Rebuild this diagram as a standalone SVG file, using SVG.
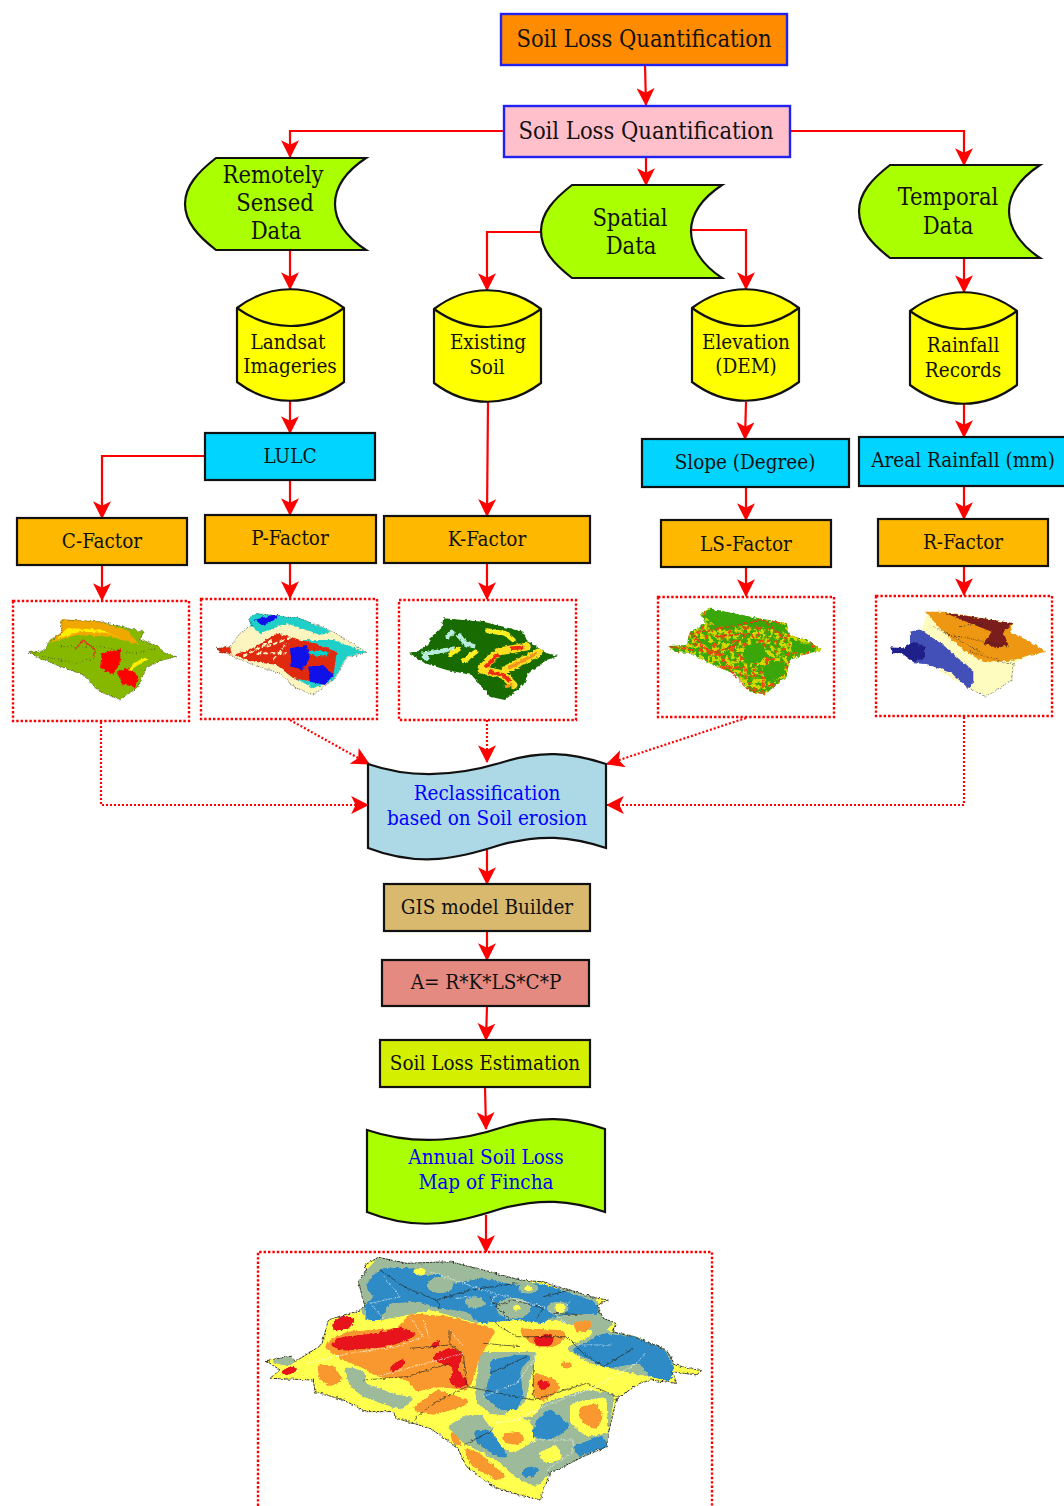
<svg xmlns="http://www.w3.org/2000/svg" width="1064" height="1506" viewBox="0 0 1064 1506">
<style>
text{font-family:"DejaVu Serif Condensed","DejaVu Serif","Liberation Serif",serif;text-anchor:middle;fill:#111}
.t1{font-size:23.5px}.t2{font-size:20.5px}
text.b{fill:#00f}
.n{stroke:#111;stroke-width:2.2;stroke-linejoin:miter}
.c{fill:none;stroke:#f00;stroke-width:2.2}
.d{fill:none;stroke:#f00;stroke-width:2.2;stroke-dasharray:2 2}
.box{fill:#fff;stroke:#f00;stroke-width:2.4;stroke-dasharray:2.4 2}
.cy{fill:#00d4ff}.fa{fill:#ffb800}.gr{fill:#aaff00}.ye{fill:#ffff00}
.bl{stroke:#2222ee;stroke-width:2.4}
.o{fill:none;stroke:#222;stroke-width:2;stroke-dasharray:3 3}
.w{fill:none;stroke:#fff;stroke-width:2;stroke-dasharray:6 3}
.k{fill:none;stroke:#222;stroke-width:2}
.bf{filter:url(#blob)}
.rf{filter:url(#rough)}
</style>
<defs>
<marker id="a" markerUnits="userSpaceOnUse" markerWidth="18" markerHeight="18" refX="15" refY="8" orient="auto" viewBox="0 0 16 16"><path d="M0,0 L16,8 L0,16 L4,8 Z" fill="#f00"/></marker>
<filter id="blob" x="-5%" y="-5%" width="110%" height="110%" color-interpolation-filters="sRGB"><feGaussianBlur stdDeviation="6"/><feComponentTransfer><feFuncA type="linear" slope="10" intercept="-4.5"/></feComponentTransfer></filter>
<filter id="rough" x="-5%" y="-5%" width="110%" height="110%" color-interpolation-filters="sRGB"><feTurbulence type="fractalNoise" baseFrequency=".09" numOctaves="2" seed="4"/><feDisplacementMap in="SourceGraphic" scale="11" xChannelSelector="R" yChannelSelector="G"/><feGaussianBlur stdDeviation="1.2"/></filter>
<filter id="mot" x="0" y="0" width="100%" height="100%" color-interpolation-filters="sRGB">
<feTurbulence type="fractalNoise" baseFrequency=".075" numOctaves="2" seed="3" result="n"/>
<feColorMatrix in="n" type="matrix" values="0 0 0 0 .82 0 0 0 0 .85 0 0 0 0 0 9 0 0 0 -4.2" result="y"/>
<feComposite in="y" in2="SourceAlpha" operator="in" result="yy"/>
<feColorMatrix in="n" type="matrix" values="0 0 0 0 .92 0 0 0 0 .3 0 0 0 0 .05 0 9 0 0 -5.2" result="r"/>
<feComposite in="r" in2="SourceAlpha" operator="in" result="rr"/>
<feMerge><feMergeNode in="SourceGraphic"/><feMergeNode in="yy"/><feMergeNode in="rr"/></feMerge></filter>
</defs>
<g id="connectors">
<path class="c" marker-end="url(#a)" d="M645,65 L646,105"/>
<path class="c" marker-end="url(#a)" d="M504,131 H290 V157"/>
<path class="c" marker-end="url(#a)" d="M646,157 V185"/>
<path class="c" marker-end="url(#a)" d="M790,131 H964 V165"/>
<path class="c" marker-end="url(#a)" d="M290,250 V289"/>
<path class="c" marker-end="url(#a)" d="M541,232 H487 V290"/>
<path class="c" marker-end="url(#a)" d="M691,230 H746 V289"/>
<path class="c" marker-end="url(#a)" d="M964,258 V292"/>
<path class="c" marker-end="url(#a)" d="M290,401 V433"/>
<path class="c" marker-end="url(#a)" d="M746,402 L745,439"/>
<path class="c" marker-end="url(#a)" d="M964,404 V437"/>
<path class="c" marker-end="url(#a)" d="M205,456 H102 V518"/>
<path class="c" marker-end="url(#a)" d="M290,480 V515"/>
<path class="c" marker-end="url(#a)" d="M488,402 L487,516"/>
<path class="c" marker-end="url(#a)" d="M746,487 V520"/>
<path class="c" marker-end="url(#a)" d="M964,486 V519"/>
<path class="c" marker-end="url(#a)" d="M102,565 V600"/>
<path class="c" marker-end="url(#a)" d="M290,563 V598"/>
<path class="c" marker-end="url(#a)" d="M487,563 V599"/>
<path class="c" marker-end="url(#a)" d="M746,567 V596"/>
<path class="c" marker-end="url(#a)" d="M964,566 V595"/>
<path class="d" marker-end="url(#a)" d="M101,722 V805 H368"/>
<path class="d" marker-end="url(#a)" d="M290,720 L369,764"/>
<path class="d" marker-end="url(#a)" d="M487,720 V762"/>
<path class="d" marker-end="url(#a)" d="M746,718 L607,764"/>
<path class="d" marker-end="url(#a)" d="M964,717 V805 H607"/>
<path class="c" marker-end="url(#a)" d="M487,850 V884"/>
<path class="c" marker-end="url(#a)" d="M487,931 V960"/>
<path class="c" marker-end="url(#a)" d="M487,1006 L486,1040"/>
<path class="c" marker-end="url(#a)" d="M485,1087 L486,1129"/>
<path class="c" marker-end="url(#a)" d="M486,1215 V1252"/>
</g>
<g id="n-top"><rect x="501" y="14" width="286" height="51" fill="#ff8c00" class="bl"/><text class="t1" x="644" y="47">Soil Loss Quantification</text></g>
<g id="n-second"><rect x="504" y="106" width="286" height="51" fill="#ffc0cb" class="bl"/><text class="t1" x="646" y="139">Soil Loss Quantification</text></g>
<g id="n-remote"><path class="n gr" d="M216,158 H366 C345,172 335,188 335,204 C335,220 345,236 366,250 H216 C198,236 185,222 185,204 C185,186 198,172 216,158 Z"/><text class="t1" x="273" y="183">Remotely</text><text class="t1" x="275" y="211">Sensed</text><text class="t1" x="276" y="239">Data</text></g>
<g id="n-spatial"><path class="n gr" d="M572,185 H722 C701,199 691,215 691,231 C691,247 701,264 722,278 H572 C554,264 541,250 541,231 C541,213 554,199 572,185 Z"/><text class="t1" x="630" y="226">Spatial</text><text class="t1" x="631" y="254">Data</text></g>
<g id="n-temporal"><path class="n gr" d="M890,165 H1040 C1019,179 1009,195 1009,211 C1009,227 1019,244 1040,258 H890 C872,244 859,230 859,211 C859,193 872,179 890,165 Z"/><text class="t1" x="948" y="205">Temporal</text><text class="t1" x="948" y="234">Data</text></g>
<g id="n-landsat"><path class="n ye" d="M237,308 C270,283 311,283 344,308 V382 C311,407 270,407 237,382 Z"/><path class="n" fill="none" d="M237,308 C270,332 311,332 344,308"/><text class="t2" x="288" y="349">Landsat</text><text class="t2" x="290" y="373">Imageries</text></g>
<g id="n-existing"><path class="n ye" d="M434,309 C467,284 508,284 541,309 V383 C508,408 467,408 434,383 Z"/><path class="n" fill="none" d="M434,309 C467,333 508,333 541,309"/><text class="t2" x="488" y="349">Existing</text><text class="t2" x="487" y="374">Soil</text></g>
<g id="n-elevation"><path class="n ye" d="M692,308 C725,283 766,283 799,308 V382 C766,407 725,407 692,382 Z"/><path class="n" fill="none" d="M692,308 C725,332 766,332 799,308"/><text class="t2" x="746" y="349">Elevation</text><text class="t2" x="746" y="373">(DEM)</text></g>
<g id="n-rainfall"><path class="n ye" d="M910,311 C943,286 984,286 1017,311 V385 C984,410 943,410 910,385 Z"/><path class="n" fill="none" d="M910,311 C943,335 984,335 1017,311"/><text class="t2" x="963" y="352">Rainfall</text><text class="t2" x="963" y="377">Records</text></g>
<g id="n-lulc"><rect class="n cy" x="205" y="433" width="170" height="47"/><text class="t2" x="290" y="463">LULC</text></g>
<g id="n-slope"><rect class="n cy" x="642" y="439" width="207" height="48"/><text class="t2" x="745" y="469">Slope (Degree)</text></g>
<g id="n-areal"><rect class="n cy" x="859" y="437" width="210" height="49"/><text class="t2" x="963" y="467">Areal Rainfall (mm)</text></g>
<g id="n-c"><rect class="n fa" x="17" y="518" width="170" height="47"/><text class="t2" x="102" y="548">C-Factor</text></g>
<g id="n-p"><rect class="n fa" x="205" y="515" width="171" height="48"/><text class="t2" x="290" y="545">P-Factor</text></g>
<g id="n-k"><rect class="n fa" x="384" y="516" width="206" height="47"/><text class="t2" x="487" y="546">K-Factor</text></g>
<g id="n-ls"><rect class="n fa" x="661" y="520" width="170" height="47"/><text class="t2" x="746" y="551">LS-Factor</text></g>
<g id="n-r"><rect class="n fa" x="878" y="519" width="170" height="47"/><text class="t2" x="963" y="549">R-Factor</text></g>

<g id="map-c"><rect class="box" x="13" y="601" width="176" height="120"/>
<g transform="translate(0,590) scale(.3333)"><g class="rf">
<path fill="#86b800" d="M85,187 L130,185 L150,150 L185,130 L185,90 L300,95 L430,125 L420,150 L470,165 L495,190 L530,200 L490,210 L440,230 L415,290 L360,330 L300,305 L250,255 L170,225 L120,205Z"/>
<path fill="#f0a800" d="M185,88 L300,95 L380,120 L418,165 L330,140 L230,135 L150,158 L185,125Z"/>
<path fill="#ffee00" d="M200,115 L300,118 L375,150 L320,128 L240,125 L170,148Z"/>
<path fill="#f00" d="M305,190 L360,178 L362,220 L340,252 L300,235Z M350,245 L385,232 L415,260 L405,292 L365,282Z"/>
<path d="M225,178 L250,150 L285,180 L280,200" fill="none" stroke="#e03a1a" stroke-width="4"/>
<path d="M385,240 L440,205 L400,222" fill="none" stroke="#ffee00" stroke-width="7"/>
<path class="o" d="M85,187 L130,185 L150,150 L185,130 L185,90 L300,95 L430,125 L420,150 L470,165 L495,190 L530,200 L490,210 L440,230 L415,290 L360,330 L300,305 L250,255 L170,225 L120,205Z"/>
<path fill="none" stroke="#333" stroke-width="2" stroke-dasharray="3 8" d="M130,200 L230,220 L300,200 M180,170 L300,170 L400,190 L470,175"/>
</g></g></g>

<g id="map-p"><rect class="box" x="201" y="599" width="176" height="120"/>
<g transform="translate(0,590) scale(.3333)"><g class="rf">
<path fill="#fdf5c0" d="M652,175 L690,170 L720,130 L760,105 L745,90 L765,70 L900,85 L1000,125 L1040,150 L1100,187 L1040,205 L1005,265 L940,315 L880,290 L840,250 L760,225 L700,200Z"/>
<path fill="#20d0c8" d="M745,90 L765,70 L900,85 L995,125 L960,135 L860,100 L780,130 L760,115Z M900,150 L1000,150 L1100,187 L1040,200 L1000,270 L940,295 L860,250 L850,190Z"/>
<path fill="#e02a10" d="M652,175 L690,172 L695,190 L660,190Z"/>
<path fill="#e02a10" d="M700,195 L760,175 L830,130 L940,160 L1010,185 L1000,260 L940,275 L880,265 L830,225 L760,215Z"/>
<path fill="none" stroke="#fdf5c0" stroke-width="6" stroke-dasharray="14 7" d="M730,200 L820,150 M770,190 L860,190 M800,170 L880,140 M820,210 L860,160"/>
<path fill="#00d4c8" d="M920,180 L990,185 L975,200 L935,195Z"/>
<path fill="#1010e8" d="M870,175 L920,165 L930,205 L905,240 L875,230Z M925,230 L970,225 L1000,255 L975,285 L930,275Z"/>
<path fill="#1010e8" d="M760,90 L830,72 L835,85 L790,105Z"/>
<path class="o" d="M652,175 L690,170 L720,130 L760,105 L745,90 L765,70 L900,85 L1000,125 L1040,150 L1100,187 L1040,205 L1005,265 L940,315 L880,290 L840,250 L760,225 L700,200Z"/>
</g></g></g>

<g id="map-k"><rect class="box" x="399" y="600" width="177" height="120"/>
<g transform="translate(390,590) scale(.3333)"><g class="rf">
<path fill="#176b00" d="M57,188 L85,183 L115,165 L120,145 L155,110 L160,85 L280,95 L400,125 L410,150 L470,190 L505,198 L470,210 L415,250 L400,285 L345,330 L300,320 L245,255 L170,240 L105,220Z"/>
<path fill="none" stroke="#b8ecdc" stroke-width="13" stroke-linejoin="round" d="M95,195 L195,175 M115,210 L100,195 M170,145 L190,122 M205,132 L225,160 L255,170"/>
<path fill="none" stroke="#ffee22" stroke-width="14" stroke-linecap="round" d="M180,195 L205,178 M222,212 L258,185 M290,122 L345,130 L370,150"/>
<path fill="none" stroke="#ffe020" stroke-width="24" stroke-linejoin="round" stroke-linecap="round" d="M275,235 L325,185 L410,170 M345,240 L445,188 M275,238 L340,255 L370,285"/>
<path fill="none" stroke="#ee2a10" stroke-width="11" stroke-linejoin="round" d="M285,232 L325,192 M295,245 L340,255 L360,275 M360,175 L400,172"/>
<path fill="none" stroke="#f2951f" stroke-width="9" d="M355,235 L440,190 M345,290 L370,285"/>
</g></g></g>

<g id="map-ls"><rect class="box" x="658" y="597" width="176" height="120"/>
<g transform="translate(650,590) scale(.3333)"><g class="rf">
<path fill="#3aa60a" style="filter:url(#mot)" d="M55,168 L110,165 L120,125 L165,100 L150,72 L175,55 L300,80 L410,100 L420,135 L470,150 L515,180 L460,195 L420,210 L410,260 L345,313 L300,305 L260,255 L190,225 L120,190 L75,185Z"/>
<path fill="#3aa60a" class="bf" d="M165,80 L175,55 L300,80 L405,105 L410,125 L300,105 L200,110Z M285,165 L340,160 L350,205 L290,225 L275,190Z M335,230 L395,210 L410,250 L350,280Z M430,150 L510,178 L460,190 L420,185Z"/>
<path fill="none" stroke="#ea3a10" stroke-width="4" stroke-dasharray="14 4" d="M120,130 L240,110 L340,90 L385,130 L400,145 M130,160 L210,190 L240,240 L290,295 L340,312 M130,135 L180,190 L250,170 L270,150 M60,170 L130,180 M200,140 L300,130"/>
</g></g></g>

<g id="map-r"><rect class="box" x="876" y="596" width="176" height="120"/>
<g transform="translate(650,590) scale(.3333)"><g class="rf">
<path fill="#fffcc0" d="M810,120 L830,85 L825,65 L880,65 L1090,100 L1080,135 L1140,155 L1190,185 L1140,195 L1095,220 L1085,270 L1010,320 L955,295 L830,220 L780,125Z"/>
<path fill="#ee9712" d="M825,65 L880,65 L1090,100 L1080,125 L1140,155 L1190,185 L1140,195 L1085,212 L1000,215 L940,180 L870,115Z"/>
<path fill="#7b1d1c" d="M880,67 L1090,100 L1060,125 L1075,165 L1040,175 L1000,160 L1025,125 L960,100Z"/>
<path fill="#4350b8" d="M780,125 L810,118 L880,165 L970,245 L970,275 L955,295 L905,250 L830,222 L790,220 L780,180Z"/>
<path fill="#20208a" d="M720,172 L760,175 L790,155 L825,170 L825,205 L790,215 L755,190 L730,190Z"/>
<path class="o" d="M850,110 L1000,190 M880,130 L1080,170 M930,110 L1000,100 M960,185 L1090,225 M1090,220 L1085,270 L1010,320 L955,295"/>
</g></g></g>

<g id="n-reclass"><path class="n" fill="#add8e6" d="M368,764 C420,782 470,772 500,763 C540,750 570,752 606,764 V848 C570,836 540,834 500,845 C460,858 420,868 368,848 Z"/><text class="t2 b" x="487" y="800">Reclassification</text><text class="t2 b" x="487" y="825">based on Soil erosion</text></g>
<g id="n-gis"><rect class="n" fill="#d9b96e" x="384" y="884" width="206" height="47"/><text class="t2" x="487" y="914">GIS model Builder</text></g>
<g id="n-eq"><rect class="n" fill="#e58a80" x="382" y="960" width="207" height="46"/><text class="t2" x="486" y="989">A= R*K*LS*C*P</text></g>
<g id="n-est"><rect class="n" fill="#d4f000" x="380" y="1040" width="210" height="47"/><text class="t2" x="485" y="1070">Soil Loss Estimation</text></g>
<g id="n-annual"><path class="n gr" d="M367,1130 C420,1148 470,1138 500,1128 C540,1115 570,1117 605,1129 V1212 C570,1200 540,1198 500,1209 C460,1222 420,1233 367,1212 Z"/><text class="t2 b" x="486" y="1164">Annual Soil Loss</text><text class="t2 b" x="486" y="1189">Map of Fincha</text></g>

<g id="map-main"><path class="box" d="M258,1506 V1252 H712 V1506"/>
<g transform="translate(250,1240) scale(.3333)"><g class="rf">
<path fill="#ffff4d" d="M48,362 L125,348 L135,365 L215,315 L235,240 L330,210 L345,200 L325,125 L350,90 L345,75 L385,52 L470,70 L600,65 L720,95 L810,120 L870,125 L960,150 L1040,175 L1075,180 L1040,195 L1060,235 L1100,250 L1085,275 L1150,290 L1250,330 L1275,375 L1355,392 L1340,405 L1265,395 L1280,430 L1200,420 L1170,430 L1100,475 L1075,580 L1070,620 L1000,650 L900,700 L870,780 L790,760 L730,740 L650,680 L620,620 L540,565 L440,535 L430,515 L350,515 L280,480 L195,455 L190,420 L60,415 L90,390Z"/>
<g class="bf" fill="#9dbb9a">
<path d="M325,125 L350,90 L385,52 L470,70 L600,65 L720,95 L810,120 L960,150 L1040,175 L1060,235 L1100,250 L1040,280 L920,240 L760,235 L680,250 L540,210 L400,240 L350,240 L330,210 L345,200Z"/>
<path d="M690,335 L860,335 L850,380 L825,490 L740,530 L680,490 L675,450Z"/>
<path d="M660,525 L850,530 L880,490 L1000,450 L1095,460 L1075,580 L1070,620 L1000,650 L900,700 L860,740 L800,715 L740,660 L640,610 L590,560 L640,530Z"/>
<path d="M280,375 L345,395 L345,430 L440,465 L500,470 L450,510 L340,470 L300,440Z"/>
<path d="M48,362 L125,348 L135,365 L170,360 L110,378Z"/>
<path d="M945,325 L1060,270 L1150,285 L1250,330 L1275,375 L1265,400 L1200,410 L1100,390 L1020,370Z"/>
</g>
<g class="bf" fill="#ffff4d"><path d="M730,560 L840,540 L860,600 L790,640 L730,610Z M860,640 L920,615 L940,655 L890,672Z M690,520 L830,530 L800,560 L720,560Z M960,490 L1070,470 L1075,580 L1010,590 L960,550Z"/></g>
<g class="bf" fill="#2e8bc6">
<path d="M355,120 L395,85 L490,85 L510,105 L570,105 L610,130 L700,115 L800,135 L870,130 L950,155 L1035,185 L1050,222 L960,222 L900,235 L880,250 L800,240 L740,245 L690,250 L650,215 L560,205 L510,185 L420,190 L390,240 L350,240 L345,190 L375,170 L350,150Z"/>
<path d="M960,330 L1060,280 L1150,290 L1245,330 L1270,375 L1265,425 L1200,410 L1170,370 L1070,385Z"/>
<path d="M720,360 L800,345 L850,345 L810,390 L820,470 L800,510 L750,510 L700,470 L720,410Z"/>
<path d="M900,505 L965,560 L900,600 L845,590 L860,540Z"/>
<path d="M670,570 L720,570 L780,655 L740,650 L680,610Z"/>
<path d="M1060,585 L1075,620 L985,650 L965,620Z"/>
<path d="M820,685 L875,680 L850,712 L815,710Z"/>
</g>
<g class="bf" fill="#9dbb9a"><ellipse cx="570" cy="135" rx="40" ry="25"/><ellipse cx="675" cy="188" rx="32" ry="16"/><ellipse cx="790" cy="205" rx="52" ry="32"/><ellipse cx="835" cy="145" rx="32" ry="16"/><ellipse cx="925" cy="205" rx="32" ry="22"/></g>
<g class="bf" fill="#ffff4d"><ellipse cx="800" cy="203" rx="13" ry="10"/><ellipse cx="835" cy="145" rx="16" ry="9"/><ellipse cx="930" cy="205" rx="18" ry="16"/><ellipse cx="510" cy="95" rx="20" ry="12"/></g>
<g class="bf" fill="#f8982f">
<path d="M240,300 L290,275 L440,265 L480,220 L600,230 L740,270 L720,300 L690,350 L670,420 L650,450 L560,440 L500,455 L470,420 L380,410 L340,385 L280,360 L220,320Z"/>
<path d="M805,265 L940,270 L950,290 L920,320 L860,320 L820,290Z"/>
<path d="M850,395 L920,420 L930,450 L880,485 L850,470Z"/>
<path d="M990,500 L1040,490 L1060,530 L1040,570 L1000,550 L985,525Z"/>
<path d="M970,245 L1030,240 L1015,275 L975,275Z"/>
<path d="M480,510 L560,450 L660,480 L640,500 L550,525Z"/>
<path d="M200,375 L250,375 L280,420 L240,440 L210,420Z"/>
<path d="M640,620 L690,640 L775,715 L740,720 L660,675Z"/>
<path d="M595,570 L625,590 L640,620 L610,612Z"/>
<path d="M760,580 L815,575 L825,605 L790,615 L760,605Z"/>
<path d="M930,365 L975,370 L955,388 L930,380Z"/>
</g>
<g fill="#e8141c" class="bf">
<path d="M245,250 L275,225 L318,235 L300,268 L250,272Z"/>
<path d="M235,315 L270,292 L380,280 L450,260 L505,285 L440,312 L400,322 L280,332Z"/>
<path d="M540,350 L600,322 L642,340 L620,390 L640,405 L658,432 L625,445 L598,430 L610,380 L565,368Z"/>
<path d="M415,385 L462,348 L462,378 L428,398Z"/>
<path d="M540,315 L578,288 L565,322 L545,328Z"/>
<path d="M85,397 L130,375 L148,390 L110,407Z"/>
<path d="M845,290 L915,282 L905,318 L860,318Z"/>
<path d="M862,418 L908,430 L885,452 L862,442Z"/>
</g>
<path fill="none" stroke="#222" stroke-width="2" d="M390,90 L470,145 L560,180 L660,150 L800,130 M560,180 L570,205 M735,200 L790,180 L880,205 L860,235 M720,170 L740,200 L780,240 M880,170 L960,150 M905,220 L1000,225 M735,250 L800,290 L950,290 L1000,340 L1060,380 L1150,325 M700,310 L810,320 M480,325 L600,315 L640,340 L650,440 L550,490 L490,540 M340,420 L470,410 L600,370 M600,270 L600,320 M650,440 L850,480 L1010,430 L1100,470 M850,370 L850,480 M720,400 L830,350 M730,570 L640,615"/>
<path class="w" d="M170,370 L300,340 L440,320 L520,290 L480,230 M640,340 L380,410 M400,110 L450,170 L360,190 L405,240 M540,95 L700,150 L880,200 L950,250 M960,185 L920,230 M680,170 L620,175 M520,240 L540,300 M600,270 L640,320 M1185,340 L1160,370 L1040,440 L880,500 L800,540 L730,550 M860,345 L800,430 L700,470 M740,160 L720,200 M850,600 L970,600 L965,640 L890,690 M985,315 L1085,315"/>
<path fill="none" stroke="#333" stroke-width="3" stroke-dasharray="9 2" d="M48,362 L125,348 L135,365 L215,315 L235,240 L330,210 L345,200 L325,125 L350,90 L345,75 L385,52 L470,70 L600,65 L720,95 L810,120 L870,125 L960,150 L1040,175 L1075,180 L1040,195 L1060,235 L1100,250 L1085,275 L1150,290 L1250,330 L1275,375 L1355,392 L1340,405 L1265,395 L1280,430 L1200,420 L1170,430 L1100,475 L1075,580 L1070,620 L1000,650 L900,700 L870,780 L790,760 L730,740 L650,680 L620,620 L540,565 L440,535 L430,515 L350,515 L280,480 L195,455 L190,420 L60,415 L90,390Z"/>
</g></g></g>
</svg>
